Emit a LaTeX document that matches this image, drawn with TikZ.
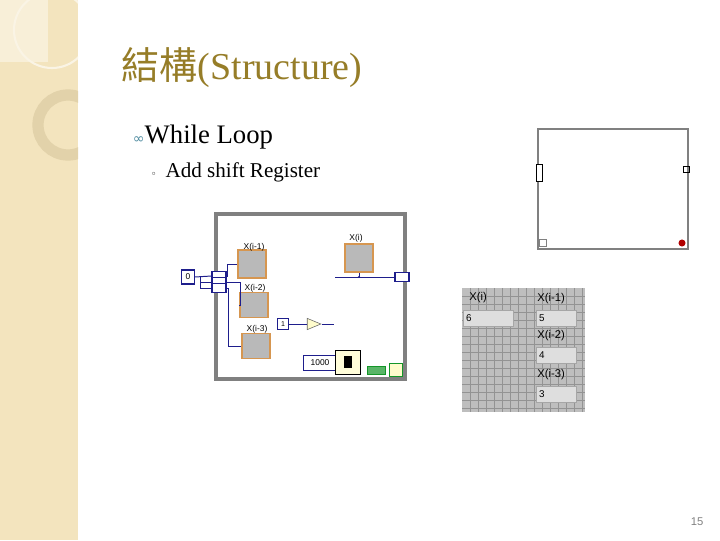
\documentclass[tikz,border=0pt]{standalone}
\usepackage{fontspec}
\usetikzlibrary{shapes.geometric}
\setmainfont{Liberation Serif}
\newfontfamily\cjk{Noto Sans CJK TC}
\newfontfamily\dejavu{DejaVu Sans}
\newfontfamily\lvfont{Liberation Sans}
\definecolor{strip}{RGB}{243,228,190}
\definecolor{ring}{RGB}{226,210,170}
\definecolor{titlecol}{RGB}{150,125,40}
\definecolor{bulletcol}{RGB}{80,140,160}
\definecolor{wire}{RGB}{30,30,140}
\definecolor{lvorange}{RGB}{214,150,80}
\definecolor{panelgray}{RGB}{190,190,190}
\definecolor{fieldgray}{RGB}{222,222,222}
\definecolor{lvgreen}{RGB}{20,150,40}
\begin{document}
\begin{tikzpicture}[x=0.025cm,y=-0.025cm,
   ind/.style={rectangle,draw=lvorange,fill=gray!55,line width=1pt,inner sep=0pt},
   reg/.style={rectangle,draw=wire,fill=white,line width=0.8pt,inner sep=0pt},
   lbl/.style={font=\lvfont\fontsize{6}{6}\selectfont,inner sep=0pt},
   fld/.style={rectangle,fill=fieldgray,draw=gray!70,minimum width=1.25cm,minimum height=0.4cm,inner sep=1pt,font=\lvfont\fontsize{7}{7}\selectfont,text width=1.1cm,align=left},
   wr/.style={wire,line width=0.7pt}
    ]
  \useasboundingbox (0,0) rectangle (720,540);
  % -- background
  \fill[strip] (0,0) rectangle (78,540);
  \begin{scope}
    \clip (0,0) rectangle (78,540);
    \fill[white!40!strip] (0,0) rectangle (48,62);
    \draw[white!60!strip,line width=1.5pt] (52,30) circle (38);
    \draw[ring,line width=8pt] (68,125) circle (30);
  \end{scope}

  % -- text
  \node[anchor=west,font=\fontsize{27}{27}\selectfont,text=titlecol] (title) at (117,68) {{\cjk 結構}(Structure)};
  \node[anchor=west,font=\fontsize{19}{19}\selectfont] (wl) at (128,137) {{\dejavu\fontsize{10}{10}\selectfont\color{bulletcol}∞}While Loop};
  \node[anchor=west,font=\fontsize{15}{15}\selectfont] (sr) at (146,172) {{\dejavu\fontsize{7}{7}\selectfont ◦}\, Add shift Register};
  \node[font=\lvfont\fontsize{8}{8}\selectfont,text=gray] (pg) at (697,522) {15};

  % -- block diagram
  \draw[gray,line width=2.5pt] (216,214) rectangle (405,379);
  \node[reg,minimum width=9pt,minimum height=10pt,font=\lvfont\fontsize{6}{6}\selectfont] (zero) at (188,277) {0};
  \node[reg,minimum width=10pt,minimum height=6pt] (r1) at (219,276) {};
  \node[reg,minimum width=10pt,minimum height=6pt] (r2) at (219,282) {};
  \node[reg,minimum width=10pt,minimum height=6pt] (r3) at (219,288) {};
  \node[reg,minimum width=10pt,minimum height=6pt] (rr) at (402,277) {};
  \node[ind,minimum width=20pt,minimum height=20pt] (i1) at (252,264) {};
  \node[ind,minimum width=20pt,minimum height=18pt] (i2) at (254,305) {};
  \node[ind,minimum width=20pt,minimum height=18pt] (i3) at (256,346) {};
  \node[ind,minimum width=20pt,minimum height=20pt] (i0) at (359,258) {};
  \node[lbl] (l1) at (254,247) {X(i-1)};
  \node[lbl] (l2) at (255,288) {X(i-2)};
  \node[lbl] (l3) at (257,329) {X(i-3)};
  \node[lbl] (l0) at (356,238) {X(i)};
  \node[reg,minimum width=8pt,minimum height=8pt,font=\lvfont\fontsize{5}{5}\selectfont] (one) at (283,324) {1};
  \node[draw=black!60,fill=yellow!20,isosceles triangle,minimum size=8pt,inner sep=0pt] (inc) at (311,324) {};
  \node[reg,minimum width=24pt,minimum height=11pt,font=\lvfont\fontsize{6}{6}\selectfont] (k) at (320,363) {1000};
  \node[draw=black,fill=yellow!15,minimum width=18pt,minimum height=17pt,inner sep=0pt] (wt) at (348,362) {};
  \node[fill=black,minimum width=6pt,minimum height=8pt,inner sep=0pt] at (wt) {};
  \node[draw=lvgreen,fill=lvgreen!70,minimum width=13pt,minimum height=6pt,inner sep=0pt] (st) at (376,370) {};
  \node[draw=lvgreen,fill=yellow!20,minimum width=9pt,minimum height=9pt,inner sep=0pt] (cnd) at (396,370) {};
  \coordinate (xs) at (335,277);
  \coordinate (inend) at (334,324);
  \draw[wr] (zero.east) -- (r1.west);
  \draw[wr] (200,277) |- (r2.west);
  \draw[wr] (200,282) |- (r3.west);
  \draw[wr] (r1.east) -- (227,276) |- (i1.west);
  \draw[wr] (r2.east) -- (240,282) |- (i2.west);
  \draw[wr] (r3.east) -- (228,288) |- (i3.west);
  \draw[wr] (xs) -- (rr.west);
  \draw[wr] (i0.south) -- (359,277);
  \fill[wire] (359,277) circle (1.2);
  \draw[wr] (one.east) -- (inc.west);
  \draw[wr] (inc.east) -- (inend);

  % -- front panel, empty loop
  \draw[gray,line width=1.5pt] (538,129) rectangle (688,249);
  \node[draw,fill=white,minimum width=4pt,minimum height=12pt,inner sep=0pt] (li) at (539,173) {};
  \node[draw,minimum width=4pt,minimum height=4pt,inner sep=0pt] (ri) at (686,169) {};
  \node[draw=gray,minimum width=5pt,minimum height=5pt,inner sep=0pt] (ic) at (543,243) {};
  \node[circle,fill=red!70!black,minimum size=5pt,inner sep=0pt] (sc) at (682,243) {};

  % -- front panel values
  \fill[panelgray] (462,288) rectangle (585,412);
  \foreach \gx in {470,478,...,584} \draw[gray!85,line width=0.3pt] (\gx,288) -- (\gx,412);
  \foreach \gy in {296,304,...,412} \draw[gray!85,line width=0.3pt] (462,\gy) -- (585,\gy);
  \node[lbl,anchor=west,font=\lvfont\fontsize{8}{8}\selectfont] (pl0) at (469,298) {X(i)};
  \node[lbl,anchor=west,font=\lvfont\fontsize{8}{8}\selectfont] (pl1) at (537,299) {X(i-1)};
  \node[lbl,anchor=west,font=\lvfont\fontsize{8}{8}\selectfont] (pl2) at (537,336) {X(i-2)};
  \node[lbl,anchor=west,font=\lvfont\fontsize{8}{8}\selectfont] (pl3) at (537,375) {X(i-3)};
  \node[fld] (f0) at (488,318) {6};
  \node[fld,minimum width=1.0cm,text width=0.85cm] (f1) at (556,318) {5};
  \node[fld,minimum width=1.0cm,text width=0.85cm] (f2) at (556,355) {4};
  \node[fld,minimum width=1.0cm,text width=0.85cm] (f3) at (556,394) {3};
\end{tikzpicture}
\end{document}
